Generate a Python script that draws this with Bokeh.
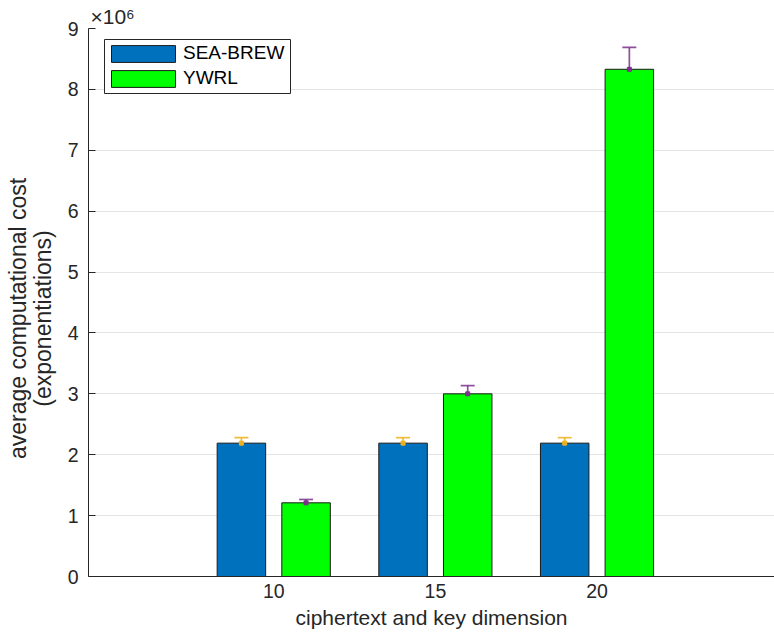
from bokeh.plotting import figure
from bokeh.models import (Range1d, FixedTicker, ColumnDataSource, Whisker,
                          TeeHead, BoxAnnotation, LinearAxis)
from bokeh.embed import file_html
from bokeh.resources import INLINE

# ---------------- data ----------------
categories = [10, 15, 20]
x_tick_labels = ["10", "15", "20"]
sea_brew = [2.19, 2.19, 2.19]          # x 10^6
sea_brew_err = [0.09, 0.09, 0.09]
ywrl = [1.21, 3.00, 8.33]              # x 10^6
ywrl_err = [0.055, 0.135, 0.36]
y_ticks = [0, 1, 2, 3, 4, 5, 6, 7, 8, 9]
series_names = ["SEA-BREW", "YWRL"]
x_label = "ciphertext and key dimension"
y_label_lines = ["average computational cost", "(exponentiations)"]
exponent_text = "\u00d710\u2076"

# ---------------- style ----------------
FONT = "Liberation Sans"
BLUE = "#0072BD"
GREEN = "#00FF00"
ORANGE = "#EDB120"
PURPLE = "#7E2F8E"
AX = "#262626"
OFFSET = 1.0
BAR_W = 1.5
PAD = "\u00a0" * 5   # nudges the rotated two-line label towards the frame centre

W, H = 774, 633
p = figure(width=W, height=H, output_backend="svg", toolbar_location=None,
           x_range=Range1d(4.27, 25.49), y_range=Range1d(0, 9),
           min_border_left=88, min_border_right=0, min_border_top=28,
           min_border_bottom=57, title=exponent_text)
p.outline_line_color = None
p.background_fill_color = "white"
p.border_fill_color = "white"

p.title.align = "left"
p.title.offset = 2
p.title.standoff = 2
p.title.text_font = FONT
p.title.text_font_size = "21px"
p.title.text_font_style = "normal"
p.title.text_color = AX

src_a = ColumnDataSource(dict(
    x=[c - OFFSET for c in categories], top=sea_brew,
    up=[v + e for v, e in zip(sea_brew, sea_brew_err)],
    lo=[v - e for v, e in zip(sea_brew, sea_brew_err)]))
src_b = ColumnDataSource(dict(
    x=[c + OFFSET for c in categories], top=ywrl,
    up=[v + e for v, e in zip(ywrl, ywrl_err)],
    lo=[v - e for v, e in zip(ywrl, ywrl_err)]))

p.vbar(x="x", top="top", width=BAR_W, bottom=0, source=src_a,
       fill_color=BLUE, line_color="#1a1a1a", line_width=1,
       legend_label=series_names[0])
p.vbar(x="x", top="top", width=BAR_W, bottom=0, source=src_b,
       fill_color=GREEN, line_color="#1a1a1a", line_width=1,
       legend_label=series_names[1])

for src, col in ((src_a, ORANGE), (src_b, PURPLE)):
    wk = Whisker(base="x", upper="up", lower="lo", source=src,
                 line_color=col, line_width=1.7, line_alpha=0.85,
                 upper_head=TeeHead(size=14, line_color=col, line_width=1.7, line_alpha=0.85),
                 lower_head=TeeHead(size=14, line_color=col, line_width=1.7, line_alpha=0.85))
    p.add_layout(wk)
    p.scatter(x="x", y="top", source=src, marker="square", size=4,
              fill_color=col, line_color=col)

# ---------------- axes ----------------
p.xaxis.ticker = FixedTicker(ticks=categories)
p.xaxis.major_label_overrides = {c: t for c, t in zip(categories, x_tick_labels)}
p.yaxis.ticker = FixedTicker(ticks=y_ticks)
for ax in (p.xaxis, p.yaxis):
    ax.axis_line_color = AX
    ax.axis_line_width = 1
    ax.major_tick_line_color = AX
    ax.minor_tick_line_color = None
    ax.major_label_text_font = FONT
    ax.major_label_text_font_size = "19.5px"
    ax.major_label_text_color = AX
    ax.axis_label_text_font = FONT
    ax.axis_label_text_font_style = "normal"
    ax.axis_label_text_color = AX
p.xaxis.major_tick_in = 0
p.xaxis.major_tick_out = 0
p.xaxis.major_label_standoff = 7
p.xaxis.axis_label = x_label
p.xaxis.axis_label_text_font_size = "21px"
p.xaxis.axis_label_standoff = 5
p.yaxis.major_tick_in = 7
p.yaxis.major_tick_out = 0
p.yaxis.major_label_standoff = 10

# y-axis title carried by a label-only axis (no line, no ticks)
label_axis = LinearAxis(ticker=FixedTicker(ticks=[]),
                        axis_label="\n".join(s + PAD for s in y_label_lines),
                        axis_line_color=None,
                        major_tick_line_color=None, minor_tick_line_color=None,
                        major_tick_in=0, major_tick_out=0,
                        major_label_standoff=0, axis_label_standoff=9,
                        axis_label_text_font=FONT,
                        axis_label_text_font_size="23px",
                        axis_label_text_font_style="normal",
                        axis_label_text_color=AX,
                        axis_label_text_line_height=0.95)
p.add_layout(label_axis, "left")

p.xgrid.visible = False
p.ygrid.ticker = FixedTicker(ticks=y_ticks)
p.ygrid.grid_line_color = "#e4e4e4"
p.ygrid.grid_line_width = 1

# ---------------- legend ----------------
frame_h = 576 - 28
p.add_layout(BoxAnnotation(left=16, right=202, bottom=frame_h - 65, top=frame_h - 11,
                           left_units="screen", right_units="screen",
                           bottom_units="screen", top_units="screen",
                           fill_color="white", fill_alpha=1,
                           line_color=AX, line_width=1, line_alpha=1))
lg = p.legend[0]
lg.glyph_width = 80
lg.glyph_height = 21
lg.label_height = 21
lg.spacing = 3
lg.padding = 0
lg.margin = 0
lg.label_standoff = -3
lg.location = (15, frame_h - 16 - 45)
lg.label_text_font = FONT
lg.label_text_font_size = "19px"
lg.label_text_color = "black"
lg.border_line_color = None
lg.background_fill_alpha = 0

open("out.html", "w").write(file_html(p, INLINE))
